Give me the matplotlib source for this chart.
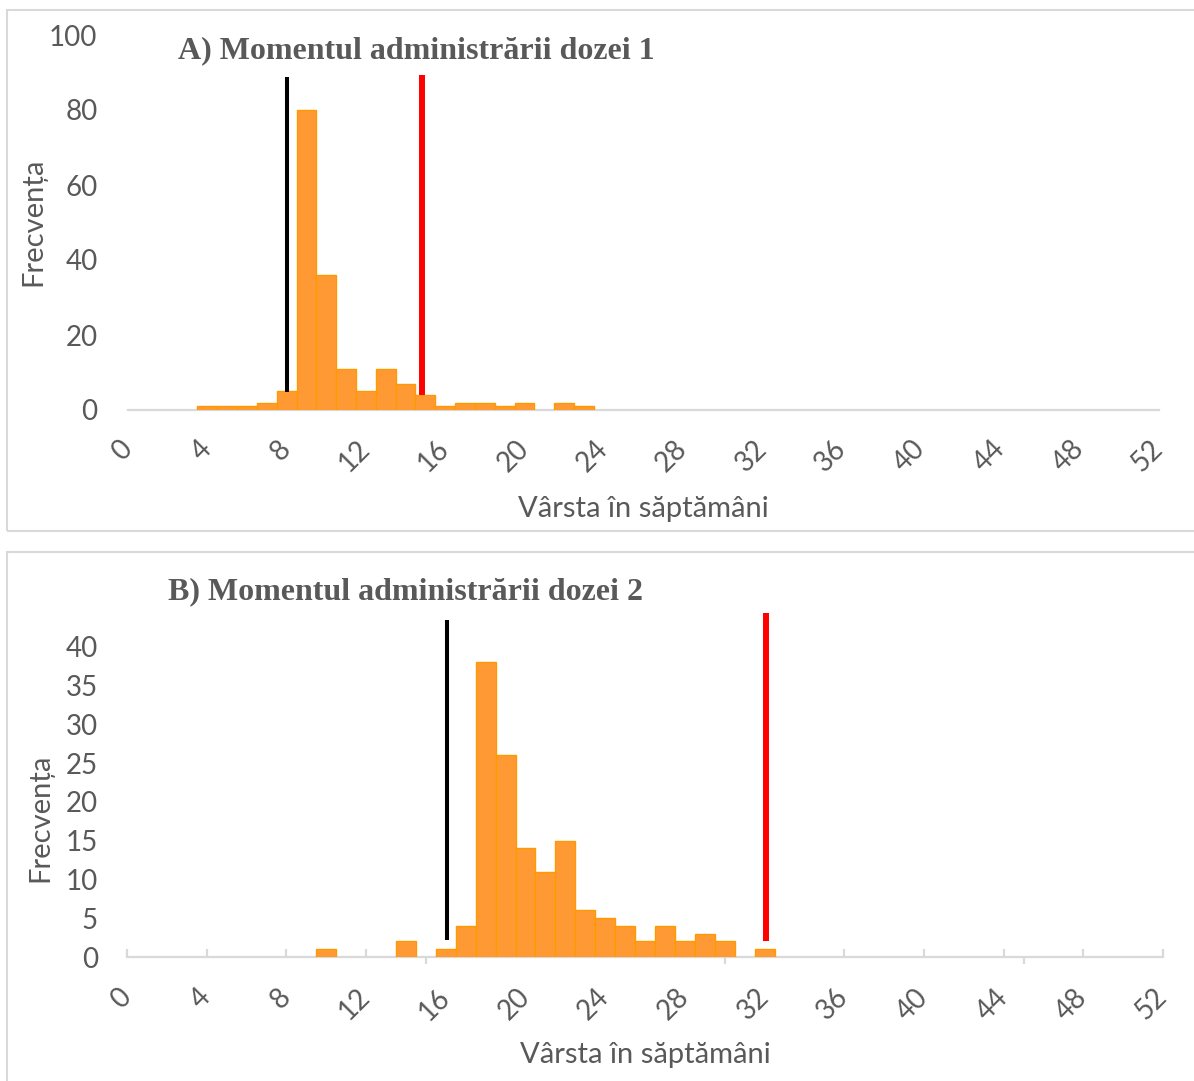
import numpy as np
import matplotlib
matplotlib.use("Agg")
import matplotlib.pyplot as plt
from matplotlib.patches import Rectangle

# -------------------------------
# Data (weeks of age, frequency)
# -------------------------------
weeks_a = [4, 5, 6, 7, 8, 9, 10, 11, 12, 13, 14, 15, 16, 17, 18, 19, 20, 21, 22, 23]
freq_a = [1, 1, 1, 2, 5, 80, 36, 11, 5, 11, 7, 4, 1, 2, 2, 1, 2, 0, 2, 1]

weeks_b = [10, 11, 12, 13, 14, 15, 16, 17, 18, 19, 20, 21, 22, 23, 24, 25, 26, 27,
           28, 29, 30, 31, 32]
freq_b = [1, 0, 0, 0, 2, 0, 1, 4, 38, 26, 14, 11, 15, 6, 5, 4, 2, 4, 2, 3, 2, 0, 1]

# reference lines: (week, y bottom, y top)
black_a = (8.0, 4.8, 88.8)
red_a = (14.85, 4.0, 89.3)
black_b = (16.05, 2.2, 43.5)
red_b = (32.05, 2.1, 44.3)

x_ticks = list(range(0, 53, 4))
yticks_a = [0, 20, 40, 60, 80, 100]
yticks_b = [0, 5, 10, 15, 20, 25, 30, 35, 40]

title_a = "A) Momentul administrării dozei 1"
title_b = "B) Momentul administrării dozei 2"
xlabel = "Vârsta în săptămâni"
ylabel = "Frecvența"

grey = "#595959"
axis_col = "#D9D9D9"
bar_face = "#FF9933"
bar_edge = "#FF9900"
tick_font = "Lato"

W, H = 1194, 1081
fig = plt.figure(figsize=(W / 100, H / 100), dpi=100)


def fx(px):
    return px / W


def fy(py):
    return 1 - py / H


# panel frames
fig.add_artist(Rectangle((fx(7), fy(531)), fx(1250 - 7), fy(10) - fy(531),
                         transform=fig.transFigure, fill=False,
                         edgecolor=axis_col, lw=1.5))
fig.add_artist(Rectangle((fx(7), fy(1120)), fx(1250 - 7), fy(552) - fy(1120),
                         transform=fig.transFigure, fill=False,
                         edgecolor=axis_col, lw=1.5))


def draw_panel(ax, weeks, freq, lines, ymax, yticks, ypad):
    # empty bins get no outline, like the original
    edges = [bar_edge if f > 0 else "none" for f in freq]
    ax.bar(weeks, freq, width=1.0, color=bar_face, edgecolor=edges,
           linewidth=1.0, zorder=2)
    for (xv, y0, y1), col, lw in zip(lines, ["black", "red"], [2.9, 4.3]):
        ax.plot([xv, xv], [y0, y1], color=col, lw=lw, solid_capstyle="butt",
                zorder=3)
    ax.set_xlim(0, 52)
    ax.set_ylim(0, ymax)
    ax.set_xticks(x_ticks)
    ax.set_xticklabels([str(t) for t in x_ticks], rotation=45,
                       ha="right", va="center", rotation_mode="anchor",
                       fontsize=20, color=grey, family=tick_font)
    ax.set_yticks(yticks)
    ax.set_yticklabels([str(t) for t in yticks], fontsize=20, color=grey,
                       family=tick_font)
    ax.tick_params(axis="y", length=0, pad=ypad)
    for s in ["top", "right", "left"]:
        ax.spines[s].set_visible(False)
    ax.spines["bottom"].set_color(axis_col)
    ax.spines["bottom"].set_linewidth(1.6)
    ax.spines["bottom"].set_zorder(1)


# Panel A
ax_a = fig.add_axes([fx(128), fy(410), fx(1159 - 128), fy(35) - fy(410)])
draw_panel(ax_a, weeks_a, freq_a, [black_a, red_a], 100, yticks_a, 22)
ax_a.tick_params(axis="x", length=0, pad=25)

# Panel B
ax_b = fig.add_axes([fx(127), fy(957), fx(1163 - 127), fy(608) - fy(957)])
draw_panel(ax_b, weeks_b, freq_b, [black_b, red_b], 45, yticks_b, 21)
ax_b.tick_params(axis="x", which="major", direction="in", length=6,
                 color=axis_col, width=1.6, pad=26)
ax_b.set_xticks([0, 15, 30, 45], minor=True)
ax_b.tick_params(axis="x", which="minor", direction="out", length=5,
                 color=axis_col, width=1.6)

# titles and axis labels
fig.text(fx(178), fy(51), title_a, family="Liberation Serif", weight="bold",
         fontsize=23, color=grey, ha="left", va="center")
fig.text(fx(168), fy(592), title_b, family="Liberation Serif", weight="bold",
         fontsize=23, color=grey, ha="left", va="center")

fig.text(fx(643), fy(509), xlabel, family=tick_font, fontsize=21, color=grey,
         ha="center", va="center")
fig.text(fx(645), fy(1055), xlabel, family=tick_font, fontsize=21, color=grey,
         ha="center", va="center")
fig.text(fx(33), fy(222), ylabel, family=tick_font, fontsize=21, color=grey,
         ha="center", va="center", rotation=90)
fig.text(fx(40), fy(818), ylabel, family=tick_font, fontsize=21, color=grey,
         ha="center", va="center", rotation=90)

fig.savefig("out.png", dpi=100)
